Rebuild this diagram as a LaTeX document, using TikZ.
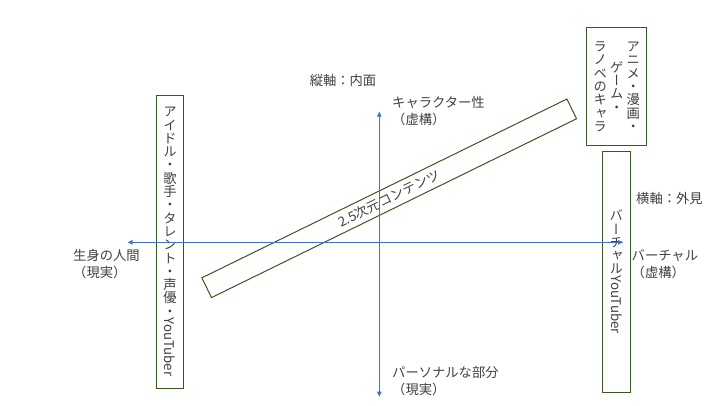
\documentclass[tikz,border=0pt]{standalone}
\usepackage{fontspec}
\usepackage{graphicx}
\setmainfont{Noto Sans CJK JP}
\newfontfamily\tatefont[RawFeature=+vert]{Noto Sans CJK JP}
\usetikzlibrary{arrows.meta}

\definecolor{axisblue}{RGB}{68,114,196}
\definecolor{boxgreen}{RGB}{56,87,35}
\definecolor{labelgray}{RGB}{64,64,64}

\newcommand\yokogumi[1]{\raisebox{0.88em}{\rotatebox{-90}{#1}}}

\tikzset{
  tate/.style={font={\tatefont\fontsize{13.3}{13.3}\selectfont\lineskiplimit=-20pt},
               align=center,text=labelgray,inner sep=0pt},
  lbl/.style={font={\fontsize{13.3}{17}\selectfont},align=left,
              text=labelgray,inner sep=0pt},
}

\begin{document}
\begin{tikzpicture}[x=1pt,y=-1pt]
\useasboundingbox (0,0) rectangle (720,405);
\begin{scope}[every node/.style={rectangle,draw=boxgreen,line width=1pt,tate}]
    \node[minimum width=26.6pt,minimum height=293.3pt] (idol) at (170,241.7)
        {ア\\イ\\ド\\ル\\・\\歌\\手\\・\\タ\\レ\\ン\\ト\\・\\声\\優\\・\\\yokogumi{YouTuber}};
    \node[minimum width=60pt,minimum height=118.3pt] (chara) at (616.7,86.8) {};
    \node[minimum width=28pt,minimum height=240.6pt] (vtuber) at (616.3,272)
        {バ\\ー\\チ\\ャ\\ル\\\yokogumi{YouTuber}};
\end{scope}
\begin{scope}[every node/.style={tate}]
    \node (anime) at (633.3,86.8) {ア\\ニ\\メ\\・\\漫\\画\\・};
    \node (game) at (616.7,86.8) {ゲ\\ー\\ム\\・};
    \node (ranobe) at (600.2,86.8) {ラ\\ノ\\ベ\\の\\キ\\ャ\\ラ};
\end{scope}
\node[draw=boxgreen,line width=1pt,lbl,rotate=26.1,minimum width=406.5pt,
      minimum height=22pt] (band) at (389.2,198.3) {2.5次元コンテンツ};
\begin{scope}[every node/.style={lbl,anchor=west}]
    \node[anchor=center] (tatejiku) at (343,80) {縦軸：内面};
    \node (kyoko) at (392,111.5) {キャラクター性\\（虚構）};
    \node (personal) at (392,381.5) {パーソナルな部分\\（現実）};
    \node (yokojiku) at (636,198) {横軸：外見};
    \node (virtual) at (631.5,264.5) {バーチャル\\（虚構）};
    \node (namami) at (73,264.5) {生身の人間\\（現実）};
\end{scope}
\coordinate (west) at (127.7,242.3);
\coordinate (east) at (623,242.3);
\coordinate (north) at (379.3,111.7);
\coordinate (south) at (379.3,396.7);
\begin{scope}[>={Triangle[length=5pt,width=4.5pt]},
              every edge/.style={draw=axisblue,line width=1pt}]
    \path [<->] (west) edge (east);
    \path [<->] (north) edge (south);
\end{scope}
\end{tikzpicture}
\end{document}
